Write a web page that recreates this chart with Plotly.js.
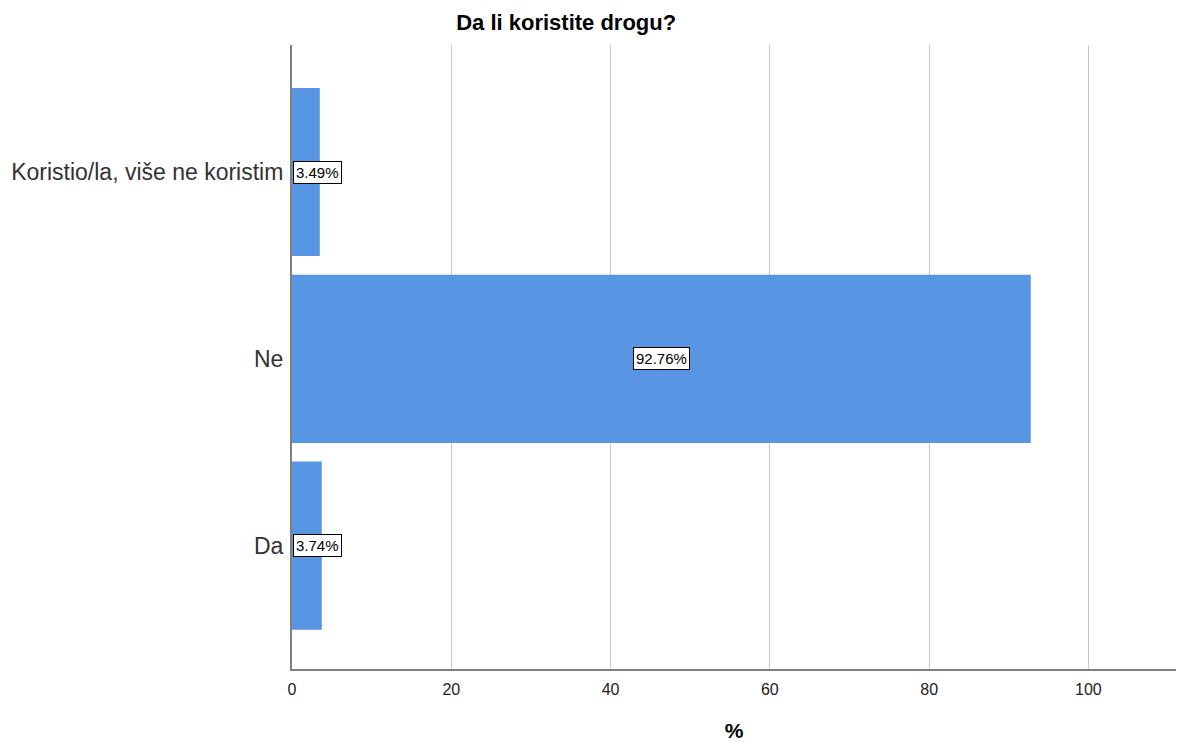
<!DOCTYPE html>
<html>
<head>
<meta charset="utf-8">
<script src="https://cdn.plot.ly/plotly-3.0.1.min.js"></script>
<style>html,body{margin:0;padding:0;background:#fff;}#chart{width:1182px;height:742px;}</style>
</head>
<body>
<div id="chart"></div>
<script>
const categories = ["Da", "Ne", "Koristio/la, više ne koristim"];
const values = [3.74, 92.76, 3.49];
const valueLabels = ["3.74%", "92.76%", "3.49%"];
const xTicks = [0, 20, 40, 60, 80, 100];

const FONT = 'Liberation Sans, Arial, sans-serif';

const trace = {
  type: 'bar',
  orientation: 'h',
  x: values,
  y: categories,
  width: 0.9,
  marker: {color: '#5895e3', line: {width: 0}},
  hoverinfo: 'none'
};

const annotations = values.map((v, i) => {
  const big = v > 10;
  return {
    x: big ? v / 2 : 0,
    y: categories[i],
    xref: 'x', yref: 'y',
    text: valueLabels[i],
    showarrow: false,
    xanchor: big ? 'center' : 'left',
    xshift: big ? 0 : 1,
    font: {family: FONT, size: 15, color: '#000'},
    bgcolor: '#ffffff',
    bordercolor: '#000000',
    borderwidth: 1,
    borderpad: 2
  };
});

const layout = {
  width: 1182, height: 742,
  margin: {l: 292, r: 6, t: 45, b: 73},
  paper_bgcolor: '#fff', plot_bgcolor: '#fff',
  showlegend: false,
  title: {
    text: '<b>Da li koristite drogu?</b>',
    font: {family: FONT, size: 22, color: '#000'},
    xref: 'container', x: 0.479, xanchor: 'center',
    yref: 'container', y: 0.970, yanchor: 'middle'
  },
  xaxis: {
    range: [0, 111],
    tickvals: xTicks,
    ticktext: xTicks.map(String),
    showgrid: true, gridcolor: '#c9c9c9', gridwidth: 1,
    zeroline: false,
    showline: true, linecolor: '#7f7f7f', linewidth: 2,
    ticks: '',
    ticklabelstandoff: 5,
    tickfont: {family: FONT, size: 16, color: '#222'},
    title: {text: '<b>%</b>', font: {family: FONT, size: 21, color: '#000'}, standoff: 26}
  },
  yaxis: {
    range: [-0.66, 2.68],
    showgrid: false,
    zeroline: false,
    showline: true, linecolor: '#7f7f7f', linewidth: 2,
    ticks: '',
    ticklabelstandoff: 2,
    tickfont: {family: FONT, size: 23, color: '#333'}
  },
  annotations: annotations,
  bargap: 0.1
};

Plotly.newPlot('chart', [trace], layout, {displayModeBar: false, staticPlot: true});
</script>
</body>
</html>
